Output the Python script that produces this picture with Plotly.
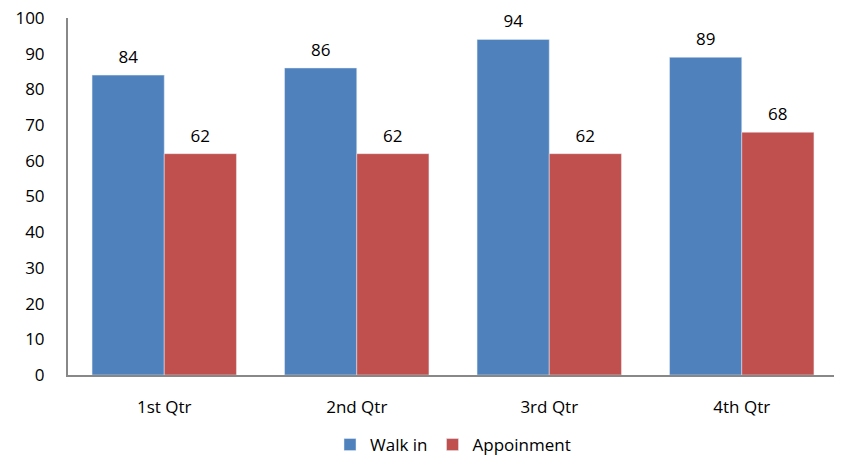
import plotly.graph_objects as go

quarters = ["1st Qtr", "2nd Qtr", "3rd Qtr", "4th Qtr"]
walk_in = [84, 86, 94, 89]
appointment = [62, 62, 62, 68]

font = "Open Sans, Noto Sans, sans-serif"
colors = {"Walk in": "#4F81BD", "Appoinment": "#C0504D"}

fig = go.Figure()
for name, vals in [("Walk in", walk_in), ("Appoinment", appointment)]:
    fig.add_trace(go.Bar(x=quarters, y=vals, name=name, marker_color=colors[name]))
# value labels as invisible-marker scatters so they sit a bit higher above the bars
for name, vals in [("Walk in", walk_in), ("Appoinment", appointment)]:
    fig.add_trace(go.Scatter(
        x=quarters, y=vals, mode="markers+text", text=vals,
        textposition="top center", marker=dict(size=11, opacity=0),
        textfont=dict(size=17, color="#000000"),
        showlegend=False, hoverinfo="skip", cliponaxis=False,
    ))

# page body has an 8px margin, so shift the figure to fit the window
fig.update_layout(
    width=834, height=457,
    margin=dict(l=60, r=4, t=10, b=90, autoexpand=False),
    paper_bgcolor="white", plot_bgcolor="white",
    font=dict(family=font, size=17, color="#000000"),
    barmode="group", bargap=0.25, bargroupgap=0,
    scattermode="group", scattergap=0.25,
    legend=dict(orientation="h", x=0.5, xanchor="center", y=-0.2465, yanchor="bottom",
                font=dict(size=17), itemwidth=30),
    showlegend=True,
)
fig.update_xaxes(showline=True, linecolor="#888888", linewidth=2, ticks="",
                 tickfont=dict(size=17), ticklabelstandoff=16)
fig.update_yaxes(range=[0, 100], dtick=10, showgrid=False, zeroline=False,
                 showline=True, linecolor="#888888", linewidth=2, ticks="",
                 tickfont=dict(size=17), ticklabelstandoff=18,
                 ticklabeloverflow="allow")

fig.write_html("out.html")
